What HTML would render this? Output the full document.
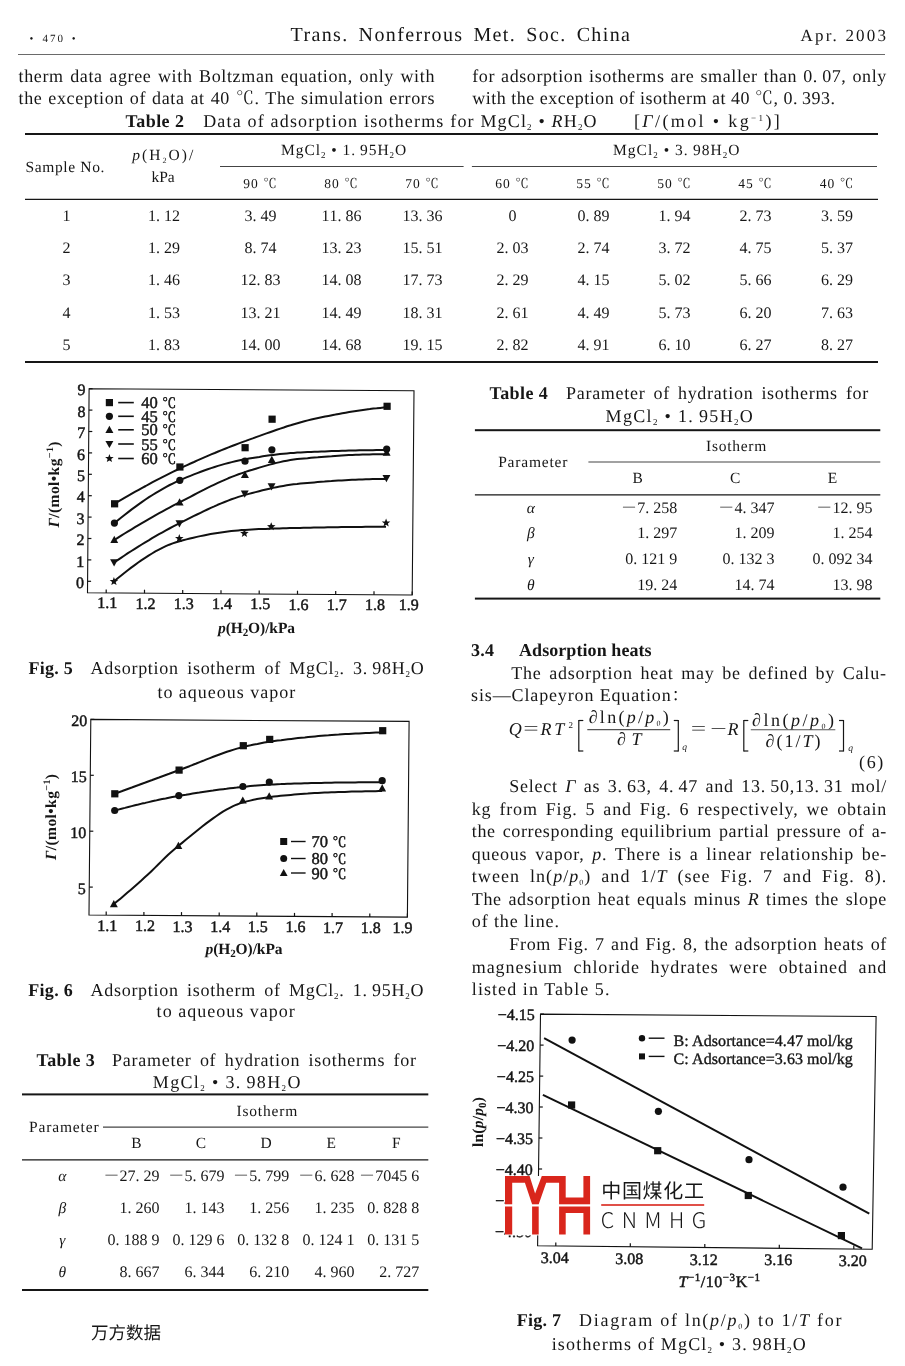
<!DOCTYPE html>
<html><head><meta charset="utf-8"><title>Trans. Nonferrous Met. Soc. China</title>
<style>
html,body{margin:0;padding:0;background:#fff;}
body{width:905px;height:1366px;overflow:hidden;}
svg{display:block;}
text{font-family:'Liberation Serif','Noto Serif CJK SC',serif;fill:#161616;text-rendering:geometricPrecision;}
.cj{font-family:'Noto Sans CJK SC','WenQuanYi Zen Hei',sans-serif;}
</style></head><body>
<svg width="905" height="1366" viewBox="0 0 905 1366">
<rect width="905" height="1366" fill="#fff"/>
<text x="31.5" y="41.5" style="font-size:11px" text-anchor="middle">•</text>
<text x="42.4" y="41.5" style="font-size:11px" textLength="20.6" lengthAdjust="spacing">470</text>
<text x="73.6" y="41.5" style="font-size:11px" text-anchor="middle">•</text>
<text x="290.5" y="40.5" style="font-size:20px;letter-spacing:0.5px;word-spacing:3.64px" textLength="339.9" lengthAdjust="spacing">Trans.  Nonferrous Met.  Soc.  China</text>
<text x="800.5" y="40.5" style="font-size:17px" textLength="85.4" lengthAdjust="spacing">Apr.  2003</text>
<line x1="18.0" y1="54.5" x2="885.0" y2="54.5" stroke="#6a6a6a" stroke-width="1"/>
<text x="18.5" y="82.0" style="font-size:18px;letter-spacing:0.5px;word-spacing:1.41px" textLength="416.4" lengthAdjust="spacing">therm data agree with Boltzman equation, only with</text>
<text x="18.5" y="104.0" style="font-size:18px;letter-spacing:0.5px;word-spacing:0.83px" textLength="416.4" lengthAdjust="spacing">the exception of data at 40 ℃.  The simulation errors</text>
<text x="472.2" y="82.0" style="font-size:18px;letter-spacing:0.5px;word-spacing:1.03px" textLength="414.6" lengthAdjust="spacing">for adsorption isotherms are smaller than 0. 07, only</text>
<text x="472.2" y="104.0" style="font-size:18px;letter-spacing:0.5px;word-spacing:-0.01px" textLength="363.4" lengthAdjust="spacing">with the exception of isotherm at 40 ℃, 0. 393.</text>
<text x="125.5" y="126.7" style="font-size:18px;font-weight:bold" textLength="58.4" lengthAdjust="spacing">Table 2</text>
<text x="203.2" y="126.7" style="font-size:18px" textLength="393.4" lengthAdjust="spacing">Data of adsorption isotherms for MgCl<tspan baseline-shift="-3" style="font-size:9px">2</tspan> • <tspan style="font-style:italic">R</tspan>H<tspan baseline-shift="-3" style="font-size:9px">2</tspan>O</text>
<text x="634.0" y="126.7" style="font-size:18px" textLength="145.8" lengthAdjust="spacing">[<tspan style="font-style:italic">Γ</tspan>/(mol • kg<tspan baseline-shift="6" style="font-size:9px">−1</tspan>)]</text>
<rect x="25.0" y="133.0" width="853.0" height="2.0" fill="#161616"/>
<text x="25.4" y="172.1" style="font-size:15.5px" textLength="79.0" lengthAdjust="spacing">Sample No.</text>
<text x="162.7" y="160.2" style="font-size:15.5px" text-anchor="middle" textLength="61.0" lengthAdjust="spacing"><tspan style="font-style:italic">p</tspan>(H<tspan baseline-shift="-3" style="font-size:8px">2</tspan>O)/</text>
<text x="163.0" y="181.8" style="font-size:15.5px" text-anchor="middle">kPa</text>
<text x="281.0" y="155.4" style="font-size:15.5px" textLength="125.2" lengthAdjust="spacing">MgCl<tspan baseline-shift="-3" style="font-size:9px">2</tspan> • 1. 95H<tspan baseline-shift="-3" style="font-size:9px">2</tspan>O</text>
<text x="613.0" y="155.4" style="font-size:15.5px" textLength="126.4" lengthAdjust="spacing">MgCl<tspan baseline-shift="-3" style="font-size:9px">2</tspan> • 3. 98H<tspan baseline-shift="-3" style="font-size:9px">2</tspan>O</text>
<line x1="220.0" y1="166.5" x2="463.6" y2="166.5" stroke="#444" stroke-width="1.2"/>
<line x1="471.9" y1="166.5" x2="877.0" y2="166.5" stroke="#444" stroke-width="1.2"/>
<text x="260.0" y="187.9" style="font-size:13.5px" text-anchor="middle" textLength="33.5" lengthAdjust="spacing" fill="#333">90 ℃</text>
<text x="341.0" y="187.9" style="font-size:13.5px" text-anchor="middle" textLength="33.5" lengthAdjust="spacing" fill="#333">80 ℃</text>
<text x="422.0" y="187.9" style="font-size:13.5px" text-anchor="middle" textLength="33.5" lengthAdjust="spacing" fill="#333">70 ℃</text>
<text x="512.0" y="187.9" style="font-size:13.5px" text-anchor="middle" textLength="33.5" lengthAdjust="spacing" fill="#333">60 ℃</text>
<text x="593.0" y="187.9" style="font-size:13.5px" text-anchor="middle" textLength="33.5" lengthAdjust="spacing" fill="#333">55 ℃</text>
<text x="674.0" y="187.9" style="font-size:13.5px" text-anchor="middle" textLength="33.5" lengthAdjust="spacing" fill="#333">50 ℃</text>
<text x="755.0" y="187.9" style="font-size:13.5px" text-anchor="middle" textLength="33.5" lengthAdjust="spacing" fill="#333">45 ℃</text>
<text x="836.5" y="187.9" style="font-size:13.5px" text-anchor="middle" textLength="33.5" lengthAdjust="spacing" fill="#333">40 ℃</text>
<line x1="25.0" y1="199.3" x2="878.0" y2="199.3" stroke="#161616" stroke-width="1.2"/>
<text x="62.60" y="220.5" style="font-size:16px" fill="#3c3c3c">1</text>
<text x="148.10 156.10 164.10 172.10" y="220.5" style="font-size:16px" fill="#3c3c3c">1.12</text>
<text x="244.60 252.60 260.60 268.60" y="220.5" style="font-size:16px" fill="#3c3c3c">3.49</text>
<text x="321.60 329.60 337.60 345.60 353.60" y="220.5" style="font-size:16px" fill="#3c3c3c">11.86</text>
<text x="402.60 410.60 418.60 426.60 434.60" y="220.5" style="font-size:16px" fill="#3c3c3c">13.36</text>
<text x="508.60" y="220.5" style="font-size:16px" fill="#3c3c3c">0</text>
<text x="577.60 585.60 593.60 601.60" y="220.5" style="font-size:16px" fill="#3c3c3c">0.89</text>
<text x="658.60 666.60 674.60 682.60" y="220.5" style="font-size:16px" fill="#3c3c3c">1.94</text>
<text x="739.60 747.60 755.60 763.60" y="220.5" style="font-size:16px" fill="#3c3c3c">2.73</text>
<text x="821.10 829.10 837.10 845.10" y="220.5" style="font-size:16px" fill="#3c3c3c">3.59</text>
<text x="62.60" y="252.9" style="font-size:16px" fill="#3c3c3c">2</text>
<text x="148.10 156.10 164.10 172.10" y="252.9" style="font-size:16px" fill="#3c3c3c">1.29</text>
<text x="244.60 252.60 260.60 268.60" y="252.9" style="font-size:16px" fill="#3c3c3c">8.74</text>
<text x="321.60 329.60 337.60 345.60 353.60" y="252.9" style="font-size:16px" fill="#3c3c3c">13.23</text>
<text x="402.60 410.60 418.60 426.60 434.60" y="252.9" style="font-size:16px" fill="#3c3c3c">15.51</text>
<text x="496.60 504.60 512.60 520.60" y="252.9" style="font-size:16px" fill="#3c3c3c">2.03</text>
<text x="577.60 585.60 593.60 601.60" y="252.9" style="font-size:16px" fill="#3c3c3c">2.74</text>
<text x="658.60 666.60 674.60 682.60" y="252.9" style="font-size:16px" fill="#3c3c3c">3.72</text>
<text x="739.60 747.60 755.60 763.60" y="252.9" style="font-size:16px" fill="#3c3c3c">4.75</text>
<text x="821.10 829.10 837.10 845.10" y="252.9" style="font-size:16px" fill="#3c3c3c">5.37</text>
<text x="62.60" y="285.4" style="font-size:16px" fill="#3c3c3c">3</text>
<text x="148.10 156.10 164.10 172.10" y="285.4" style="font-size:16px" fill="#3c3c3c">1.46</text>
<text x="240.60 248.60 256.60 264.60 272.60" y="285.4" style="font-size:16px" fill="#3c3c3c">12.83</text>
<text x="321.60 329.60 337.60 345.60 353.60" y="285.4" style="font-size:16px" fill="#3c3c3c">14.08</text>
<text x="402.60 410.60 418.60 426.60 434.60" y="285.4" style="font-size:16px" fill="#3c3c3c">17.73</text>
<text x="496.60 504.60 512.60 520.60" y="285.4" style="font-size:16px" fill="#3c3c3c">2.29</text>
<text x="577.60 585.60 593.60 601.60" y="285.4" style="font-size:16px" fill="#3c3c3c">4.15</text>
<text x="658.60 666.60 674.60 682.60" y="285.4" style="font-size:16px" fill="#3c3c3c">5.02</text>
<text x="739.60 747.60 755.60 763.60" y="285.4" style="font-size:16px" fill="#3c3c3c">5.66</text>
<text x="821.10 829.10 837.10 845.10" y="285.4" style="font-size:16px" fill="#3c3c3c">6.29</text>
<text x="62.60" y="317.7" style="font-size:16px" fill="#3c3c3c">4</text>
<text x="148.10 156.10 164.10 172.10" y="317.7" style="font-size:16px" fill="#3c3c3c">1.53</text>
<text x="240.60 248.60 256.60 264.60 272.60" y="317.7" style="font-size:16px" fill="#3c3c3c">13.21</text>
<text x="321.60 329.60 337.60 345.60 353.60" y="317.7" style="font-size:16px" fill="#3c3c3c">14.49</text>
<text x="402.60 410.60 418.60 426.60 434.60" y="317.7" style="font-size:16px" fill="#3c3c3c">18.31</text>
<text x="496.60 504.60 512.60 520.60" y="317.7" style="font-size:16px" fill="#3c3c3c">2.61</text>
<text x="577.60 585.60 593.60 601.60" y="317.7" style="font-size:16px" fill="#3c3c3c">4.49</text>
<text x="658.60 666.60 674.60 682.60" y="317.7" style="font-size:16px" fill="#3c3c3c">5.73</text>
<text x="739.60 747.60 755.60 763.60" y="317.7" style="font-size:16px" fill="#3c3c3c">6.20</text>
<text x="821.10 829.10 837.10 845.10" y="317.7" style="font-size:16px" fill="#3c3c3c">7.63</text>
<text x="62.60" y="350.0" style="font-size:16px" fill="#3c3c3c">5</text>
<text x="148.10 156.10 164.10 172.10" y="350.0" style="font-size:16px" fill="#3c3c3c">1.83</text>
<text x="240.60 248.60 256.60 264.60 272.60" y="350.0" style="font-size:16px" fill="#3c3c3c">14.00</text>
<text x="321.60 329.60 337.60 345.60 353.60" y="350.0" style="font-size:16px" fill="#3c3c3c">14.68</text>
<text x="402.60 410.60 418.60 426.60 434.60" y="350.0" style="font-size:16px" fill="#3c3c3c">19.15</text>
<text x="496.60 504.60 512.60 520.60" y="350.0" style="font-size:16px" fill="#3c3c3c">2.82</text>
<text x="577.60 585.60 593.60 601.60" y="350.0" style="font-size:16px" fill="#3c3c3c">4.91</text>
<text x="658.60 666.60 674.60 682.60" y="350.0" style="font-size:16px" fill="#3c3c3c">6.10</text>
<text x="739.60 747.60 755.60 763.60" y="350.0" style="font-size:16px" fill="#3c3c3c">6.27</text>
<text x="821.10 829.10 837.10 845.10" y="350.0" style="font-size:16px" fill="#3c3c3c">8.27</text>
<rect x="25.0" y="361.0" width="853.0" height="2.0" fill="#161616"/>
<polygon points="89.1,388.7 414.0,390.8 412.2,595.0 87.5,592.8" fill="none" stroke="#111" stroke-width="1.1"/>
<line x1="87.6" y1="581.3" x2="91.1" y2="581.3" stroke="#111" stroke-width="1.2"/>
<text x="84.1" y="587.9" style="font-family:'Liberation Serif','Noto Serif CJK SC',serif;font-size:16px;font-weight:normal" fill="#111" text-anchor="end" stroke="#111" stroke-width="0.45">0</text>
<line x1="87.8" y1="559.9" x2="91.3" y2="559.9" stroke="#111" stroke-width="1.2"/>
<text x="84.3" y="566.5" style="font-family:'Liberation Serif','Noto Serif CJK SC',serif;font-size:16px;font-weight:normal" fill="#111" text-anchor="end" stroke="#111" stroke-width="0.45">1</text>
<line x1="87.9" y1="538.5" x2="91.4" y2="538.5" stroke="#111" stroke-width="1.2"/>
<text x="84.4" y="545.1" style="font-family:'Liberation Serif','Noto Serif CJK SC',serif;font-size:16px;font-weight:normal" fill="#111" text-anchor="end" stroke="#111" stroke-width="0.45">2</text>
<line x1="88.1" y1="517.1" x2="91.6" y2="517.1" stroke="#111" stroke-width="1.2"/>
<text x="84.6" y="523.7" style="font-family:'Liberation Serif','Noto Serif CJK SC',serif;font-size:16px;font-weight:normal" fill="#111" text-anchor="end" stroke="#111" stroke-width="0.45">3</text>
<line x1="88.3" y1="495.7" x2="91.8" y2="495.7" stroke="#111" stroke-width="1.2"/>
<text x="84.8" y="502.3" style="font-family:'Liberation Serif','Noto Serif CJK SC',serif;font-size:16px;font-weight:normal" fill="#111" text-anchor="end" stroke="#111" stroke-width="0.45">4</text>
<line x1="88.4" y1="474.3" x2="91.9" y2="474.3" stroke="#111" stroke-width="1.2"/>
<text x="84.9" y="480.9" style="font-family:'Liberation Serif','Noto Serif CJK SC',serif;font-size:16px;font-weight:normal" fill="#111" text-anchor="end" stroke="#111" stroke-width="0.45">5</text>
<line x1="88.6" y1="452.9" x2="92.1" y2="452.9" stroke="#111" stroke-width="1.2"/>
<text x="85.1" y="459.5" style="font-family:'Liberation Serif','Noto Serif CJK SC',serif;font-size:16px;font-weight:normal" fill="#111" text-anchor="end" stroke="#111" stroke-width="0.45">6</text>
<line x1="88.8" y1="431.5" x2="92.3" y2="431.5" stroke="#111" stroke-width="1.2"/>
<text x="85.3" y="438.1" style="font-family:'Liberation Serif','Noto Serif CJK SC',serif;font-size:16px;font-weight:normal" fill="#111" text-anchor="end" stroke="#111" stroke-width="0.45">7</text>
<line x1="88.9" y1="410.1" x2="92.4" y2="410.1" stroke="#111" stroke-width="1.2"/>
<text x="85.4" y="416.7" style="font-family:'Liberation Serif','Noto Serif CJK SC',serif;font-size:16px;font-weight:normal" fill="#111" text-anchor="end" stroke="#111" stroke-width="0.45">8</text>
<line x1="89.1" y1="388.7" x2="92.6" y2="388.7" stroke="#111" stroke-width="1.2"/>
<text x="85.6" y="395.3" style="font-family:'Liberation Serif','Noto Serif CJK SC',serif;font-size:16px;font-weight:normal" fill="#111" text-anchor="end" stroke="#111" stroke-width="0.45">9</text>
<line x1="106.2" y1="592.9" x2="106.2" y2="589.4" stroke="#111" stroke-width="1.2"/>
<text x="107.2" y="608.2" style="font-family:'Liberation Serif','Noto Serif CJK SC',serif;font-size:16px;font-weight:normal" fill="#111" text-anchor="middle" stroke="#111" stroke-width="0.45">1.1</text>
<line x1="144.5" y1="593.2" x2="144.5" y2="589.7" stroke="#111" stroke-width="1.2"/>
<text x="145.5" y="608.5" style="font-family:'Liberation Serif','Noto Serif CJK SC',serif;font-size:16px;font-weight:normal" fill="#111" text-anchor="middle" stroke="#111" stroke-width="0.45">1.2</text>
<line x1="182.7" y1="593.4" x2="182.7" y2="589.9" stroke="#111" stroke-width="1.2"/>
<text x="183.7" y="608.7" style="font-family:'Liberation Serif','Noto Serif CJK SC',serif;font-size:16px;font-weight:normal" fill="#111" text-anchor="middle" stroke="#111" stroke-width="0.45">1.3</text>
<line x1="221.0" y1="593.7" x2="221.0" y2="590.2" stroke="#111" stroke-width="1.2"/>
<text x="222.0" y="609.0" style="font-family:'Liberation Serif','Noto Serif CJK SC',serif;font-size:16px;font-weight:normal" fill="#111" text-anchor="middle" stroke="#111" stroke-width="0.45">1.4</text>
<line x1="259.2" y1="594.0" x2="259.2" y2="590.5" stroke="#111" stroke-width="1.2"/>
<text x="260.2" y="609.3" style="font-family:'Liberation Serif','Noto Serif CJK SC',serif;font-size:16px;font-weight:normal" fill="#111" text-anchor="middle" stroke="#111" stroke-width="0.45">1.5</text>
<line x1="297.5" y1="594.2" x2="297.5" y2="590.7" stroke="#111" stroke-width="1.2"/>
<text x="298.5" y="609.5" style="font-family:'Liberation Serif','Noto Serif CJK SC',serif;font-size:16px;font-weight:normal" fill="#111" text-anchor="middle" stroke="#111" stroke-width="0.45">1.6</text>
<line x1="335.7" y1="594.5" x2="335.7" y2="591.0" stroke="#111" stroke-width="1.2"/>
<text x="336.7" y="609.8" style="font-family:'Liberation Serif','Noto Serif CJK SC',serif;font-size:16px;font-weight:normal" fill="#111" text-anchor="middle" stroke="#111" stroke-width="0.45">1.7</text>
<line x1="374.0" y1="594.7" x2="374.0" y2="591.2" stroke="#111" stroke-width="1.2"/>
<text x="375.0" y="610.0" style="font-family:'Liberation Serif','Noto Serif CJK SC',serif;font-size:16px;font-weight:normal" fill="#111" text-anchor="middle" stroke="#111" stroke-width="0.45">1.8</text>
<line x1="412.2" y1="595.0" x2="412.2" y2="591.5" stroke="#111" stroke-width="1.2"/>
<text x="408.8" y="610.3" style="font-family:'Liberation Serif','Noto Serif CJK SC',serif;font-size:16px;font-weight:normal" fill="#111" text-anchor="middle" stroke="#111" stroke-width="0.45">1.9</text>
<path d="M114.6,503.8 L118.0,501.7 L121.5,499.7 L124.9,497.7 L128.4,495.7 L131.8,493.7 L135.3,491.7 L138.7,489.8 L142.2,487.8 L145.7,486.0 L149.1,484.1 L152.6,482.2 L156.0,480.4 L159.5,478.6 L162.9,476.8 L166.4,475.1 L169.8,473.4 L173.3,471.7 L176.7,470.0 L180.2,468.3 L183.6,466.7 L187.1,465.1 L190.5,463.5 L194.0,462.0 L197.4,460.4 L200.9,458.9 L204.3,457.4 L207.8,455.9 L211.2,454.4 L214.7,453.0 L218.2,451.5 L221.6,450.1 L225.1,448.7 L228.5,447.4 L232.0,446.0 L235.4,444.7 L238.9,443.4 L242.3,442.1 L245.8,440.9 L249.2,439.6 L252.7,438.4 L256.1,437.1 L259.6,435.9 L263.0,434.6 L266.5,433.4 L269.9,432.2 L273.4,431.0 L276.8,429.8 L280.3,428.6 L283.7,427.5 L287.1,426.3 L290.6,425.3 L294.0,424.2 L297.5,423.2 L300.9,422.2 L304.4,421.3 L307.8,420.4 L311.3,419.5 L314.7,418.7 L318.2,418.0 L321.6,417.3 L325.1,416.6 L328.5,415.9 L332.0,415.2 L335.4,414.6 L338.8,413.9 L342.3,413.3 L345.7,412.7 L349.2,412.1 L352.6,411.5 L356.1,411.0 L359.5,410.5 L363.0,410.0 L366.4,409.5 L369.8,409.1 L373.3,408.6 L376.7,408.3 L380.2,407.9 L383.6,407.6 L387.1,407.3" fill="none" stroke="#111" stroke-width="2" stroke-linejoin="round"/>
<path d="M114.4,523.1 L117.9,520.2 L121.3,517.5 L124.8,514.7 L128.2,512.1 L131.7,509.4 L135.2,506.9 L138.6,504.4 L142.1,501.9 L145.5,499.5 L149.0,497.2 L152.5,495.0 L155.9,492.8 L159.4,490.8 L162.8,488.8 L166.3,486.8 L169.7,485.0 L173.2,483.3 L176.6,481.7 L180.1,480.1 L183.5,478.7 L187.0,477.2 L190.4,475.8 L193.9,474.4 L197.3,473.1 L200.8,471.8 L204.2,470.5 L207.7,469.3 L211.1,468.1 L214.6,467.0 L218.0,465.9 L221.5,464.9 L224.9,463.9 L228.4,463.0 L231.8,462.1 L235.3,461.3 L238.7,460.5 L242.2,459.8 L245.6,459.2 L249.0,458.6 L252.5,458.0 L255.9,457.4 L259.4,456.9 L262.8,456.3 L266.3,455.8 L269.7,455.3 L273.2,454.9 L276.6,454.5 L280.0,454.1 L283.5,453.7 L286.9,453.4 L290.4,453.1 L293.8,452.9 L297.2,452.6 L300.7,452.5 L304.1,452.3 L307.6,452.1 L311.0,452.0 L314.4,451.8 L317.9,451.7 L321.3,451.5 L324.8,451.4 L328.2,451.2 L331.7,451.1 L335.1,451.0 L338.5,450.9 L342.0,450.8 L345.4,450.7 L348.9,450.6 L352.3,450.5 L355.7,450.4 L359.2,450.3 L362.6,450.3 L366.1,450.2 L369.5,450.2 L372.9,450.2 L376.4,450.1 L379.8,450.1 L383.2,450.1 L386.7,450.1" fill="none" stroke="#111" stroke-width="2" stroke-linejoin="round"/>
<path d="M114.3,540.0 L117.7,537.8 L121.2,535.6 L124.6,533.5 L128.1,531.4 L131.6,529.3 L135.0,527.2 L138.5,525.1 L141.9,523.1 L145.4,521.1 L148.8,519.1 L152.3,517.1 L155.7,515.1 L159.2,513.2 L162.6,511.3 L166.1,509.4 L169.5,507.6 L173.0,505.7 L176.5,503.9 L179.9,502.2 L183.4,500.4 L186.8,498.6 L190.3,496.8 L193.7,495.0 L197.2,493.2 L200.6,491.4 L204.1,489.7 L207.5,487.9 L211.0,486.2 L214.4,484.6 L217.9,482.9 L221.3,481.3 L224.8,479.8 L228.2,478.3 L231.7,476.9 L235.1,475.6 L238.6,474.3 L242.0,473.1 L245.5,471.9 L248.9,470.8 L252.4,469.8 L255.8,468.7 L259.3,467.6 L262.7,466.6 L266.2,465.6 L269.6,464.6 L273.1,463.7 L276.5,462.9 L280.0,462.1 L283.4,461.3 L286.9,460.7 L290.3,460.1 L293.7,459.6 L297.2,459.1 L300.6,458.8 L304.1,458.5 L307.5,458.2 L311.0,457.8 L314.4,457.5 L317.8,457.3 L321.3,457.0 L324.7,456.7 L328.2,456.4 L331.6,456.2 L335.0,455.9 L338.5,455.7 L341.9,455.5 L345.4,455.3 L348.8,455.1 L352.3,455.0 L355.7,454.8 L359.1,454.7 L362.6,454.5 L366.0,454.4 L369.5,454.4 L372.9,454.3 L376.3,454.2 L379.8,454.2 L383.2,454.2 L386.7,454.2" fill="none" stroke="#111" stroke-width="2" stroke-linejoin="round"/>
<path d="M114.1,562.4 L117.6,560.1 L121.0,557.8 L124.5,555.5 L127.9,553.2 L131.4,551.0 L134.8,548.8 L138.3,546.6 L141.7,544.5 L145.2,542.3 L148.7,540.3 L152.1,538.2 L155.6,536.2 L159.0,534.2 L162.5,532.3 L165.9,530.4 L169.4,528.5 L172.8,526.7 L176.3,524.9 L179.7,523.1 L183.2,521.4 L186.6,519.7 L190.1,517.9 L193.5,516.2 L197.0,514.5 L200.5,512.8 L203.9,511.1 L207.4,509.5 L210.8,507.9 L214.3,506.4 L217.7,504.8 L221.2,503.4 L224.6,502.0 L228.1,500.6 L231.5,499.3 L235.0,498.1 L238.4,496.9 L241.9,495.9 L245.3,494.9 L248.8,493.9 L252.2,493.0 L255.6,492.1 L259.1,491.2 L262.5,490.3 L266.0,489.5 L269.4,488.7 L272.9,487.9 L276.3,487.2 L279.8,486.5 L283.2,485.9 L286.7,485.3 L290.1,484.8 L293.5,484.3 L297.0,484.0 L300.4,483.6 L303.9,483.3 L307.3,483.0 L310.7,482.7 L314.2,482.4 L317.6,482.1 L321.1,481.8 L324.5,481.6 L328.0,481.3 L331.4,481.1 L334.8,480.8 L338.3,480.6 L341.7,480.4 L345.2,480.2 L348.6,480.0 L352.0,479.8 L355.5,479.7 L358.9,479.5 L362.4,479.4 L365.8,479.3 L369.2,479.2 L372.7,479.1 L376.1,479.1 L379.6,479.1 L383.0,479.0 L386.4,479.1" fill="none" stroke="#111" stroke-width="2" stroke-linejoin="round"/>
<path d="M113.9,581.5 L117.4,578.6 L120.9,575.8 L124.3,573.0 L127.8,570.3 L131.2,567.6 L134.7,565.1 L138.2,562.5 L141.6,560.1 L145.1,557.8 L148.5,555.6 L152.0,553.5 L155.4,551.4 L158.9,549.6 L162.3,547.8 L165.8,546.2 L169.2,544.7 L172.7,543.4 L176.1,542.2 L179.6,541.2 L183.0,540.3 L186.5,539.4 L189.9,538.5 L193.4,537.7 L196.8,536.9 L200.3,536.1 L203.7,535.4 L207.2,534.7 L210.6,534.1 L214.0,533.5 L217.5,532.9 L220.9,532.4 L224.4,531.9 L227.8,531.5 L231.3,531.1 L234.7,530.7 L238.1,530.4 L241.6,530.1 L245.0,529.9 L248.5,529.7 L251.9,529.5 L255.3,529.3 L258.8,529.1 L262.2,529.0 L265.7,528.9 L269.1,528.7 L272.5,528.6 L276.0,528.5 L279.4,528.4 L282.9,528.3 L286.3,528.2 L289.7,528.1 L293.2,528.0 L296.6,528.0 L300.0,527.9 L303.5,527.8 L306.9,527.7 L310.4,527.7 L313.8,527.6 L317.2,527.5 L320.7,527.5 L324.1,527.4 L327.6,527.3 L331.0,527.3 L334.4,527.2 L337.9,527.2 L341.3,527.1 L344.8,527.1 L348.2,527.0 L351.6,527.0 L355.1,526.9 L358.5,526.9 L361.9,526.9 L365.4,526.8 L368.8,526.8 L372.3,526.8 L375.7,526.8 L379.1,526.8 L382.6,526.8 L386.0,526.8" fill="none" stroke="#111" stroke-width="2" stroke-linejoin="round"/>
<rect x="111.0" y="500.2" width="7.2" height="7.2" fill="#111"/>
<rect x="176.3" y="463.4" width="7.2" height="7.2" fill="#111"/>
<rect x="241.5" y="444.1" width="7.2" height="7.2" fill="#111"/>
<rect x="268.5" y="415.6" width="7.2" height="7.2" fill="#111"/>
<rect x="383.5" y="402.7" width="7.2" height="7.2" fill="#111"/>
<circle cx="114.4" cy="523.1" r="3.6" fill="#111"/>
<circle cx="179.8" cy="480.3" r="3.6" fill="#111"/>
<circle cx="245.0" cy="461.2" r="3.6" fill="#111"/>
<circle cx="271.9" cy="449.8" r="3.6" fill="#111"/>
<circle cx="386.7" cy="449.1" r="3.6" fill="#111"/>
<polygon points="114.3,535.8 118.2,543.1 110.3,543.1" fill="#111"/>
<polygon points="179.6,498.2 183.6,505.4 175.7,505.4" fill="#111"/>
<polygon points="244.9,470.8 248.9,478.0 240.9,478.0" fill="#111"/>
<polygon points="271.8,455.7 275.8,463.0 267.8,463.0" fill="#111"/>
<polygon points="386.7,448.6 390.6,455.8 382.7,455.8" fill="#111"/>
<polygon points="114.1,566.6 118.1,559.3 110.1,559.3" fill="#111"/>
<polygon points="179.4,527.4 183.4,520.2 175.5,520.2" fill="#111"/>
<polygon points="244.7,497.7 248.7,490.4 240.8,490.4" fill="#111"/>
<polygon points="271.6,490.6 275.5,483.3 267.6,483.3" fill="#111"/>
<polygon points="386.4,482.3 390.4,475.1 382.5,475.1" fill="#111"/>
<polygon points="113.9,577.0 115.1,580.0 118.2,580.1 115.7,582.1 116.6,585.1 113.9,583.4 111.3,585.1 112.1,582.1 109.7,580.1 112.8,580.0" fill="#111"/>
<polygon points="179.3,534.0 180.4,536.9 183.6,537.1 181.1,539.1 182.0,542.1 179.3,540.4 176.7,542.1 177.5,539.1 175.0,537.1 178.2,536.9" fill="#111"/>
<polygon points="244.4,528.8 245.5,531.8 248.7,532.0 246.2,533.9 247.1,537.0 244.4,535.2 241.8,537.0 242.6,533.9 240.1,532.0 243.3,531.8" fill="#111"/>
<polygon points="271.2,522.2 272.4,525.1 275.5,525.3 273.0,527.3 273.9,530.3 271.2,528.6 268.6,530.3 269.4,527.3 267.0,525.3 270.1,525.1" fill="#111"/>
<polygon points="386.1,518.4 387.2,521.4 390.3,521.6 387.9,523.5 388.7,526.6 386.1,524.8 383.4,526.6 384.3,523.5 381.8,521.6 384.9,521.4" fill="#111"/>
<rect x="105.8" y="399.0" width="7.2" height="7.2" fill="#111"/>
<line x1="118.2" y1="402.6" x2="133.8" y2="402.6" stroke="#111" stroke-width="1.6"/>
<text x="141.2" y="408.2" style="font-family:'Liberation Serif','Noto Serif CJK SC',serif;font-size:16.5px;font-weight:normal" fill="#111" stroke="#111" stroke-width="0.45">40<tspan dx="4.5" style="font-size:14px">℃</tspan></text>
<circle cx="109.4" cy="416.3" r="3.6" fill="#111"/>
<line x1="118.2" y1="416.3" x2="133.8" y2="416.3" stroke="#111" stroke-width="1.6"/>
<text x="141.2" y="421.9" style="font-family:'Liberation Serif','Noto Serif CJK SC',serif;font-size:16.5px;font-weight:normal" fill="#111" stroke="#111" stroke-width="0.45">45<tspan dx="4.5" style="font-size:14px">℃</tspan></text>
<polygon points="109.4,425.7 113.4,432.9 105.4,432.9" fill="#111"/>
<line x1="118.2" y1="429.8" x2="133.8" y2="429.8" stroke="#111" stroke-width="1.6"/>
<text x="141.2" y="435.4" style="font-family:'Liberation Serif','Noto Serif CJK SC',serif;font-size:16.5px;font-weight:normal" fill="#111" stroke="#111" stroke-width="0.45">50<tspan dx="4.5" style="font-size:14px">℃</tspan></text>
<polygon points="109.4,448.1 113.4,440.9 105.4,440.9" fill="#111"/>
<line x1="118.2" y1="444.0" x2="133.8" y2="444.0" stroke="#111" stroke-width="1.6"/>
<text x="141.2" y="449.6" style="font-family:'Liberation Serif','Noto Serif CJK SC',serif;font-size:16.5px;font-weight:normal" fill="#111" stroke="#111" stroke-width="0.45">55<tspan dx="4.5" style="font-size:14px">℃</tspan></text>
<polygon points="109.4,454.0 110.5,457.0 113.7,457.1 111.2,459.1 112.0,462.1 109.4,460.4 106.8,462.1 107.6,459.1 105.1,457.1 108.3,457.0" fill="#111"/>
<line x1="118.2" y1="458.5" x2="133.8" y2="458.5" stroke="#111" stroke-width="1.6"/>
<text x="141.2" y="464.1" style="font-family:'Liberation Serif','Noto Serif CJK SC',serif;font-size:16.5px;font-weight:normal" fill="#111" stroke="#111" stroke-width="0.45">60<tspan dx="4.5" style="font-size:14px">℃</tspan></text>
<text x="256.5" y="632.7" style="font-family:'Liberation Serif','Noto Serif CJK SC',serif;font-size:15.5px;font-weight:bold" fill="#111" text-anchor="middle" textLength="77.0" lengthAdjust="spacing"><tspan style="font-style:italic">p</tspan>(H<tspan baseline-shift="-3" style="font-size:11px">2</tspan>O)/kPa</text>
<g transform="translate(59.3,484.5) rotate(-90)"><text x="0.0" y="0.0" style="font-family:'Liberation Serif','Noto Serif CJK SC',serif;font-size:15.5px;font-weight:bold" fill="#111" text-anchor="middle" textLength="86.0" lengthAdjust="spacing"><tspan style="font-style:italic">Γ</tspan>/(mol•kg<tspan baseline-shift="6" style="font-size:10px">−1</tspan>)</text></g>
<polygon points="90.8,719.4 409.1,721.4 407.4,917.1 89.0,915.0" fill="none" stroke="#111" stroke-width="1.1"/>
<line x1="89.3" y1="887.1" x2="92.8" y2="887.1" stroke="#111" stroke-width="1.2"/>
<text x="85.8" y="893.7" style="font-family:'Liberation Serif','Noto Serif CJK SC',serif;font-size:16px;font-weight:normal" fill="#111" text-anchor="end" stroke="#111" stroke-width="0.45">5</text>
<line x1="89.8" y1="831.2" x2="93.3" y2="831.2" stroke="#111" stroke-width="1.2"/>
<text x="86.3" y="837.8" style="font-family:'Liberation Serif','Noto Serif CJK SC',serif;font-size:16px;font-weight:normal" fill="#111" text-anchor="end" stroke="#111" stroke-width="0.45">10</text>
<line x1="90.3" y1="775.3" x2="93.8" y2="775.3" stroke="#111" stroke-width="1.2"/>
<text x="86.8" y="781.9" style="font-family:'Liberation Serif','Noto Serif CJK SC',serif;font-size:16px;font-weight:normal" fill="#111" text-anchor="end" stroke="#111" stroke-width="0.45">15</text>
<line x1="90.8" y1="719.4" x2="94.3" y2="719.4" stroke="#111" stroke-width="1.2"/>
<text x="87.3" y="726.0" style="font-family:'Liberation Serif','Noto Serif CJK SC',serif;font-size:16px;font-weight:normal" fill="#111" text-anchor="end" stroke="#111" stroke-width="0.45">20</text>
<line x1="106.2" y1="915.1" x2="106.2" y2="911.6" stroke="#111" stroke-width="1.2"/>
<text x="107.2" y="931.0" style="font-family:'Liberation Serif','Noto Serif CJK SC',serif;font-size:16px;font-weight:normal" fill="#111" text-anchor="middle" stroke="#111" stroke-width="0.45">1.1</text>
<line x1="143.9" y1="915.4" x2="143.9" y2="911.9" stroke="#111" stroke-width="1.2"/>
<text x="144.9" y="931.3" style="font-family:'Liberation Serif','Noto Serif CJK SC',serif;font-size:16px;font-weight:normal" fill="#111" text-anchor="middle" stroke="#111" stroke-width="0.45">1.2</text>
<line x1="181.5" y1="915.6" x2="181.5" y2="912.1" stroke="#111" stroke-width="1.2"/>
<text x="182.5" y="931.5" style="font-family:'Liberation Serif','Noto Serif CJK SC',serif;font-size:16px;font-weight:normal" fill="#111" text-anchor="middle" stroke="#111" stroke-width="0.45">1.3</text>
<line x1="219.2" y1="915.9" x2="219.2" y2="912.4" stroke="#111" stroke-width="1.2"/>
<text x="220.2" y="931.8" style="font-family:'Liberation Serif','Noto Serif CJK SC',serif;font-size:16px;font-weight:normal" fill="#111" text-anchor="middle" stroke="#111" stroke-width="0.45">1.4</text>
<line x1="256.8" y1="916.1" x2="256.8" y2="912.6" stroke="#111" stroke-width="1.2"/>
<text x="257.8" y="932.0" style="font-family:'Liberation Serif','Noto Serif CJK SC',serif;font-size:16px;font-weight:normal" fill="#111" text-anchor="middle" stroke="#111" stroke-width="0.45">1.5</text>
<line x1="294.5" y1="916.4" x2="294.5" y2="912.9" stroke="#111" stroke-width="1.2"/>
<text x="295.5" y="932.3" style="font-family:'Liberation Serif','Noto Serif CJK SC',serif;font-size:16px;font-weight:normal" fill="#111" text-anchor="middle" stroke="#111" stroke-width="0.45">1.6</text>
<line x1="332.1" y1="916.6" x2="332.1" y2="913.1" stroke="#111" stroke-width="1.2"/>
<text x="333.1" y="932.5" style="font-family:'Liberation Serif','Noto Serif CJK SC',serif;font-size:16px;font-weight:normal" fill="#111" text-anchor="middle" stroke="#111" stroke-width="0.45">1.7</text>
<line x1="369.8" y1="916.9" x2="369.8" y2="913.4" stroke="#111" stroke-width="1.2"/>
<text x="370.8" y="932.8" style="font-family:'Liberation Serif','Noto Serif CJK SC',serif;font-size:16px;font-weight:normal" fill="#111" text-anchor="middle" stroke="#111" stroke-width="0.45">1.8</text>
<line x1="407.4" y1="917.1" x2="407.4" y2="913.6" stroke="#111" stroke-width="1.2"/>
<text x="402.4" y="933.0" style="font-family:'Liberation Serif','Noto Serif CJK SC',serif;font-size:16px;font-weight:normal" fill="#111" text-anchor="middle" stroke="#111" stroke-width="0.45">1.9</text>
<path d="M114.8,793.8 L118.2,792.5 L121.6,791.3 L125.0,790.0 L128.4,788.7 L131.8,787.5 L135.2,786.2 L138.6,785.0 L142.0,783.7 L145.4,782.5 L148.8,781.2 L152.2,780.0 L155.6,778.7 L159.0,777.5 L162.4,776.2 L165.8,775.0 L169.2,773.8 L172.6,772.5 L175.9,771.3 L179.3,770.0 L182.7,768.8 L186.1,767.5 L189.5,766.2 L192.9,764.8 L196.3,763.5 L199.7,762.1 L203.1,760.8 L206.5,759.4 L209.9,758.1 L213.3,756.8 L216.7,755.5 L220.1,754.2 L223.5,753.0 L226.9,751.8 L230.3,750.7 L233.7,749.6 L237.0,748.6 L240.4,747.7 L243.8,746.8 L247.2,746.0 L250.6,745.3 L254.0,744.5 L257.4,743.9 L260.8,743.2 L264.2,742.6 L267.6,742.1 L270.9,741.6 L274.3,741.1 L277.7,740.6 L281.1,740.2 L284.5,739.7 L287.9,739.3 L291.3,738.9 L294.6,738.5 L298.0,738.1 L301.4,737.7 L304.8,737.4 L308.2,737.0 L311.6,736.7 L315.0,736.4 L318.3,736.1 L321.7,735.8 L325.1,735.5 L328.5,735.3 L331.9,735.0 L335.3,734.8 L338.7,734.6 L342.0,734.3 L345.4,734.1 L348.8,733.9 L352.2,733.7 L355.6,733.5 L359.0,733.4 L362.4,733.2 L365.7,733.0 L369.1,732.9 L372.5,732.7 L375.9,732.6 L379.3,732.5 L382.7,732.4" fill="none" stroke="#111" stroke-width="2" stroke-linejoin="round"/>
<path d="M114.7,810.5 L118.1,809.6 L121.5,808.7 L124.9,807.9 L128.3,807.0 L131.7,806.1 L135.0,805.3 L138.4,804.5 L141.8,803.6 L145.2,802.9 L148.6,802.1 L152.0,801.3 L155.4,800.6 L158.8,799.8 L162.2,799.1 L165.6,798.5 L168.9,797.8 L172.3,797.1 L175.7,796.5 L179.1,795.9 L182.5,795.3 L185.9,794.8 L189.3,794.2 L192.7,793.6 L196.1,793.1 L199.4,792.6 L202.8,792.0 L206.2,791.5 L209.6,791.0 L213.0,790.6 L216.4,790.1 L219.8,789.6 L223.2,789.2 L226.5,788.8 L229.9,788.3 L233.3,787.9 L236.7,787.6 L240.1,787.2 L243.5,786.8 L246.9,786.5 L250.2,786.1 L253.6,785.8 L257.0,785.5 L260.4,785.2 L263.8,784.9 L267.2,784.7 L270.6,784.5 L273.9,784.4 L277.3,784.2 L280.7,784.1 L284.1,783.9 L287.5,783.8 L290.9,783.7 L294.2,783.6 L297.6,783.5 L301.0,783.4 L304.4,783.3 L307.8,783.2 L311.2,783.1 L314.6,783.0 L317.9,782.9 L321.3,782.9 L324.7,782.8 L328.1,782.7 L331.5,782.7 L334.9,782.6 L338.2,782.6 L341.6,782.5 L345.0,782.5 L348.4,782.4 L351.8,782.4 L355.2,782.4 L358.5,782.3 L361.9,782.3 L365.3,782.3 L368.7,782.2 L372.1,782.2 L375.5,782.2 L378.8,782.2 L382.2,782.2" fill="none" stroke="#111" stroke-width="2" stroke-linejoin="round"/>
<path d="M113.8,904.1 L117.2,901.3 L120.7,898.4 L124.1,895.5 L127.5,892.6 L130.9,889.7 L134.3,886.7 L137.7,883.7 L141.1,880.7 L144.5,877.6 L147.9,874.5 L151.4,871.2 L154.8,867.9 L158.2,864.5 L161.6,861.1 L165.0,857.8 L168.4,854.5 L171.8,851.4 L175.3,848.4 L178.7,845.6 L182.1,842.9 L185.5,840.1 L188.9,837.3 L192.3,834.5 L195.7,831.7 L199.1,829.0 L202.5,826.3 L205.9,823.6 L209.3,821.1 L212.7,818.6 L216.1,816.2 L219.5,813.9 L222.9,811.7 L226.4,809.7 L229.8,807.9 L233.1,806.2 L236.5,804.7 L239.9,803.4 L243.3,802.4 L246.7,801.4 L250.1,800.6 L253.5,799.8 L256.9,799.1 L260.3,798.4 L263.7,797.9 L267.1,797.4 L270.4,797.0 L273.8,796.6 L277.2,796.2 L280.6,795.8 L284.0,795.5 L287.4,795.2 L290.8,794.9 L294.2,794.6 L297.5,794.3 L300.9,794.0 L304.3,793.8 L307.7,793.6 L311.1,793.3 L314.5,793.1 L317.8,793.0 L321.2,792.8 L324.6,792.6 L328.0,792.5 L331.4,792.3 L334.8,792.2 L338.2,792.1 L341.5,792.0 L344.9,791.9 L348.3,791.7 L351.7,791.6 L355.1,791.5 L358.5,791.5 L361.8,791.4 L365.2,791.3 L368.6,791.2 L372.0,791.2 L375.4,791.2 L378.8,791.1 L382.1,791.1" fill="none" stroke="#111" stroke-width="2" stroke-linejoin="round"/>
<rect x="111.2" y="790.2" width="7.2" height="7.2" fill="#111"/>
<rect x="175.5" y="766.5" width="7.2" height="7.2" fill="#111"/>
<rect x="239.7" y="742.1" width="7.2" height="7.2" fill="#111"/>
<rect x="266.1" y="735.8" width="7.2" height="7.2" fill="#111"/>
<rect x="379.1" y="727.1" width="7.2" height="7.2" fill="#111"/>
<circle cx="114.7" cy="810.5" r="3.6" fill="#111"/>
<circle cx="178.8" cy="795.6" r="3.6" fill="#111"/>
<circle cx="242.9" cy="786.5" r="3.6" fill="#111"/>
<circle cx="269.3" cy="782.1" r="3.6" fill="#111"/>
<circle cx="382.2" cy="780.7" r="3.6" fill="#111"/>
<polygon points="113.8,900.0 117.8,907.2 109.9,907.2" fill="#111"/>
<polygon points="178.4,841.7 182.3,848.9 174.4,848.9" fill="#111"/>
<polygon points="242.8,796.4 246.7,803.6 238.8,803.6" fill="#111"/>
<polygon points="269.2,792.3 273.1,799.5 265.2,799.5" fill="#111"/>
<polygon points="382.2,784.2 386.1,791.4 378.2,791.4" fill="#111"/>
<rect x="280.2" y="838.0" width="7.0" height="7.0" fill="#111"/>
<line x1="291" y1="841.5" x2="305.6" y2="841.5" stroke="#111" stroke-width="1.4"/>
<text x="311.4" y="847.1" style="font-family:'Liberation Serif','Noto Serif CJK SC',serif;font-size:16.5px;font-weight:normal" fill="#111" stroke="#111" stroke-width="0.45">70<tspan dx="4.5" style="font-size:14px">℃</tspan></text>
<circle cx="283.7" cy="858.5" r="3.5" fill="#111"/>
<line x1="291" y1="858.5" x2="305.6" y2="858.5" stroke="#111" stroke-width="1.4"/>
<text x="311.4" y="864.1" style="font-family:'Liberation Serif','Noto Serif CJK SC',serif;font-size:16.5px;font-weight:normal" fill="#111" stroke="#111" stroke-width="0.45">80<tspan dx="4.5" style="font-size:14px">℃</tspan></text>
<polygon points="283.7,869.0 287.6,876.0 279.8,876.0" fill="#111"/>
<line x1="291" y1="873.0" x2="305.6" y2="873.0" stroke="#111" stroke-width="1.4"/>
<text x="311.4" y="878.6" style="font-family:'Liberation Serif','Noto Serif CJK SC',serif;font-size:16.5px;font-weight:normal" fill="#111" stroke="#111" stroke-width="0.45">90<tspan dx="4.5" style="font-size:14px">℃</tspan></text>
<text x="244.0" y="953.5" style="font-family:'Liberation Serif','Noto Serif CJK SC',serif;font-size:15.5px;font-weight:bold" fill="#111" text-anchor="middle" textLength="77.0" lengthAdjust="spacing"><tspan style="font-style:italic">p</tspan>(H<tspan baseline-shift="-3" style="font-size:11px">2</tspan>O)/kPa</text>
<g transform="translate(55.6,817) rotate(-90)"><text x="0.0" y="0.0" style="font-family:'Liberation Serif','Noto Serif CJK SC',serif;font-size:15.5px;font-weight:bold" fill="#111" text-anchor="middle" textLength="86.0" lengthAdjust="spacing"><tspan style="font-style:italic">Γ</tspan>/(mol•kg<tspan baseline-shift="6" style="font-size:10px">−1</tspan>)</text></g>
<polygon points="540.5,1014.1 876.1,1016.5 872.2,1249.2 537.6,1245.8" fill="none" stroke="#111" stroke-width="1.1"/>
<line x1="540.5" y1="1014.1" x2="544.0" y2="1014.1" stroke="#111" stroke-width="1.2"/>
<text x="534.7" y="1020.4" style="font-family:'Liberation Serif','Noto Serif CJK SC',serif;font-size:16px;font-weight:normal" fill="#111" text-anchor="end" stroke="#111" stroke-width="0.45">−4.15</text>
<line x1="540.1" y1="1045.1" x2="543.6" y2="1045.1" stroke="#111" stroke-width="1.2"/>
<text x="534.3" y="1051.4" style="font-family:'Liberation Serif','Noto Serif CJK SC',serif;font-size:16px;font-weight:normal" fill="#111" text-anchor="end" stroke="#111" stroke-width="0.45">−4.20</text>
<line x1="539.7" y1="1076.1" x2="543.2" y2="1076.1" stroke="#111" stroke-width="1.2"/>
<text x="533.9" y="1082.4" style="font-family:'Liberation Serif','Noto Serif CJK SC',serif;font-size:16px;font-weight:normal" fill="#111" text-anchor="end" stroke="#111" stroke-width="0.45">−4.25</text>
<line x1="539.3" y1="1107.0" x2="542.8" y2="1107.0" stroke="#111" stroke-width="1.2"/>
<text x="533.5" y="1113.3" style="font-family:'Liberation Serif','Noto Serif CJK SC',serif;font-size:16px;font-weight:normal" fill="#111" text-anchor="end" stroke="#111" stroke-width="0.45">−4.30</text>
<line x1="538.9" y1="1138.0" x2="542.4" y2="1138.0" stroke="#111" stroke-width="1.2"/>
<text x="533.1" y="1144.3" style="font-family:'Liberation Serif','Noto Serif CJK SC',serif;font-size:16px;font-weight:normal" fill="#111" text-anchor="end" stroke="#111" stroke-width="0.45">−4.35</text>
<line x1="538.6" y1="1169.0" x2="542.1" y2="1169.0" stroke="#111" stroke-width="1.2"/>
<text x="532.8" y="1175.3" style="font-family:'Liberation Serif','Noto Serif CJK SC',serif;font-size:16px;font-weight:normal" fill="#111" text-anchor="end" stroke="#111" stroke-width="0.45">−4.40</text>
<line x1="538.2" y1="1200.0" x2="541.7" y2="1200.0" stroke="#111" stroke-width="1.2"/>
<text x="532.4" y="1206.3" style="font-family:'Liberation Serif','Noto Serif CJK SC',serif;font-size:16px;font-weight:normal" fill="#111" text-anchor="end" stroke="#111" stroke-width="0.45">−4.45</text>
<line x1="537.8" y1="1230.9" x2="541.3" y2="1230.9" stroke="#111" stroke-width="1.2"/>
<text x="532.0" y="1237.2" style="font-family:'Liberation Serif','Noto Serif CJK SC',serif;font-size:16px;font-weight:normal" fill="#111" text-anchor="end" stroke="#111" stroke-width="0.45">−4.50</text>
<line x1="555.8" y1="1246.0" x2="555.8" y2="1242.5" stroke="#111" stroke-width="1.2"/>
<text x="554.8" y="1263.0" style="font-family:'Liberation Serif','Noto Serif CJK SC',serif;font-size:16px;font-weight:normal" fill="#111" text-anchor="middle" stroke="#111" stroke-width="0.45">3.04</text>
<line x1="630.3" y1="1246.7" x2="630.3" y2="1243.2" stroke="#111" stroke-width="1.2"/>
<text x="629.3" y="1263.7" style="font-family:'Liberation Serif','Noto Serif CJK SC',serif;font-size:16px;font-weight:normal" fill="#111" text-anchor="middle" stroke="#111" stroke-width="0.45">3.08</text>
<line x1="704.8" y1="1247.5" x2="704.8" y2="1244.0" stroke="#111" stroke-width="1.2"/>
<text x="703.8" y="1264.5" style="font-family:'Liberation Serif','Noto Serif CJK SC',serif;font-size:16px;font-weight:normal" fill="#111" text-anchor="middle" stroke="#111" stroke-width="0.45">3.12</text>
<line x1="779.3" y1="1248.3" x2="779.3" y2="1244.8" stroke="#111" stroke-width="1.2"/>
<text x="778.3" y="1265.3" style="font-family:'Liberation Serif','Noto Serif CJK SC',serif;font-size:16px;font-weight:normal" fill="#111" text-anchor="middle" stroke="#111" stroke-width="0.45">3.16</text>
<line x1="853.8" y1="1249.0" x2="853.8" y2="1245.5" stroke="#111" stroke-width="1.2"/>
<text x="852.8" y="1266.0" style="font-family:'Liberation Serif','Noto Serif CJK SC',serif;font-size:16px;font-weight:normal" fill="#111" text-anchor="middle" stroke="#111" stroke-width="0.45">3.20</text>
<line x1="544.1" y1="1038.2" x2="869.3" y2="1213.7" stroke="#111" stroke-width="2"/>
<line x1="542.9" y1="1094.8" x2="862.0" y2="1248.4" stroke="#111" stroke-width="2"/>
<circle cx="572.1" cy="1040.1" r="3.6" fill="#111"/>
<circle cx="658.4" cy="1111.3" r="3.6" fill="#111"/>
<circle cx="749.0" cy="1159.7" r="3.6" fill="#111"/>
<circle cx="843.0" cy="1187.2" r="3.6" fill="#111"/>
<rect x="568.0" y="1101.4" width="7.2" height="7.2" fill="#111"/>
<rect x="654.1" y="1147.1" width="7.2" height="7.2" fill="#111"/>
<rect x="744.7" y="1191.9" width="7.2" height="7.2" fill="#111"/>
<rect x="837.8" y="1232.0" width="7.2" height="7.2" fill="#111"/>
<circle cx="642.0" cy="1038.2" r="3.2" fill="#111"/>
<line x1="648.7" y1="1038.2" x2="664.5" y2="1038.2" stroke="#111" stroke-width="1.4"/>
<text x="673.6" y="1045.7" style="font-family:'Liberation Serif','Noto Serif CJK SC',serif;font-size:16px;font-weight:normal" fill="#111" textLength="179.2" lengthAdjust="spacing" stroke="#111" stroke-width="0.35">B: Adsortance=4.47 mol/kg</text>
<rect x="639.0" y="1053.4" width="6.0" height="6.0" fill="#111"/>
<line x1="648.7" y1="1056.4" x2="664.5" y2="1056.4" stroke="#111" stroke-width="1.4"/>
<text x="673.6" y="1063.7" style="font-family:'Liberation Serif','Noto Serif CJK SC',serif;font-size:16px;font-weight:normal" fill="#111" textLength="179.2" lengthAdjust="spacing" stroke="#111" stroke-width="0.35">C: Adsortance=3.63 mol/kg</text>
<text x="678.5" y="1287.3" style="font-family:'Liberation Serif','Noto Serif CJK SC',serif;font-size:16px;font-weight:normal" fill="#111" textLength="81.5" lengthAdjust="spacing" stroke="#111" stroke-width="0.45"><tspan style="font-style:italic">T</tspan><tspan baseline-shift="6" style="font-size:11px">−1</tspan>/10<tspan baseline-shift="6" style="font-size:11px">−3</tspan>K<tspan baseline-shift="6" style="font-size:11px">−1</tspan></text>
<g transform="translate(482.6,1122) rotate(-90)"><text x="0.0" y="0.0" style="font-family:'Liberation Serif','Noto Serif CJK SC',serif;font-size:15.5px;font-weight:bold" fill="#111" text-anchor="middle" textLength="50.0" lengthAdjust="spacing">ln(<tspan style="font-style:italic">p</tspan>/<tspan style="font-style:italic">p</tspan><tspan baseline-shift="-3" style="font-size:11px">0</tspan>)</text></g>
<text x="28.4" y="674.0" style="font-size:18px;font-weight:bold" textLength="44.4" lengthAdjust="spacing">Fig. 5</text>
<text x="90.5" y="674.0" style="font-size:18px;letter-spacing:0.5px;word-spacing:3.16px" textLength="333.7" lengthAdjust="spacing">Adsorption isotherm of MgCl<tspan baseline-shift="-3" style="font-size:9px">2</tspan>. 3. 98H<tspan baseline-shift="-3" style="font-size:9px">2</tspan>O</text>
<text x="157.4" y="697.8" style="font-size:18px" textLength="137.8" lengthAdjust="spacing">to aqueous vapor</text>
<text x="28.3" y="995.6" style="font-size:18px;font-weight:bold" textLength="44.4" lengthAdjust="spacing">Fig. 6</text>
<text x="90.5" y="995.6" style="font-size:18px;letter-spacing:0.5px;word-spacing:3.13px" textLength="333.5" lengthAdjust="spacing">Adsorption isotherm of MgCl<tspan baseline-shift="-3" style="font-size:9px">2</tspan>. 1. 95H<tspan baseline-shift="-3" style="font-size:9px">2</tspan>O</text>
<text x="156.6" y="1017.0" style="font-size:18px" textLength="138.2" lengthAdjust="spacing">to aqueous vapor</text>
<text x="36.4" y="1065.5" style="font-size:18px;font-weight:bold" textLength="58.4" lengthAdjust="spacing">Table 3</text>
<text x="112.0" y="1065.5" style="font-size:18px;letter-spacing:0.5px;word-spacing:3.07px" textLength="304.4" lengthAdjust="spacing">Parameter of hydration isotherms for</text>
<text x="152.8" y="1088.3" style="font-size:18px" textLength="147.6" lengthAdjust="spacing">MgCl<tspan baseline-shift="-3" style="font-size:9px">2</tspan> • 3. 98H<tspan baseline-shift="-3" style="font-size:9px">2</tspan>O</text>
<rect x="22.0" y="1093.4" width="406.3" height="2.0" fill="#161616"/>
<text x="29.1" y="1132.0" style="font-size:15.5px" textLength="69.5" lengthAdjust="spacing">Parameter</text>
<text x="236.5" y="1115.5" style="font-size:15.5px" textLength="60.7" lengthAdjust="spacing">Isotherm</text>
<line x1="103.0" y1="1127.2" x2="428.3" y2="1127.2" stroke="#444" stroke-width="1.2"/>
<text x="136.5" y="1147.9" style="font-size:15.5px" text-anchor="middle">B</text>
<text x="201.0" y="1147.9" style="font-size:15.5px" text-anchor="middle">C</text>
<text x="266.2" y="1147.9" style="font-size:15.5px" text-anchor="middle">D</text>
<text x="331.3" y="1147.9" style="font-size:15.5px" text-anchor="middle">E</text>
<text x="396.2" y="1147.9" style="font-size:15.5px" text-anchor="middle">F</text>
<line x1="22.0" y1="1159.8" x2="428.3" y2="1159.8" stroke="#161616" stroke-width="1.3"/>
<text x="62.4" y="1181.0" style="font-size:15.5px" text-anchor="middle"><tspan style="font-style:italic">α</tspan></text>
<text x="103.40 119.60 127.60 135.60 143.60 151.60" y="1181.0" style="font-size:16px" fill="#3c3c3c">－27.29</text>
<text x="168.30 184.50 192.50 200.50 208.50 216.50" y="1181.0" style="font-size:16px" fill="#3c3c3c">－5.679</text>
<text x="233.00 249.20 257.20 265.20 273.20 281.20" y="1181.0" style="font-size:16px" fill="#3c3c3c">－5.799</text>
<text x="298.20 314.40 322.40 330.40 338.40 346.40" y="1181.0" style="font-size:16px" fill="#3c3c3c">－6.628</text>
<text x="359.10 375.30 383.30 391.30 399.30 411.30" y="1181.0" style="font-size:16px" fill="#3c3c3c">－70456</text>
<text x="62.4" y="1212.7" style="font-size:15.5px" text-anchor="middle"><tspan style="font-style:italic">β</tspan></text>
<text x="119.60 127.60 135.60 143.60 151.60" y="1212.7" style="font-size:16px" fill="#3c3c3c">1.260</text>
<text x="184.50 192.50 200.50 208.50 216.50" y="1212.7" style="font-size:16px" fill="#3c3c3c">1.143</text>
<text x="249.20 257.20 265.20 273.20 281.20" y="1212.7" style="font-size:16px" fill="#3c3c3c">1.256</text>
<text x="314.40 322.40 330.40 338.40 346.40" y="1212.7" style="font-size:16px" fill="#3c3c3c">1.235</text>
<text x="367.30 375.30 383.30 391.30 399.30 411.30" y="1212.7" style="font-size:16px" fill="#3c3c3c">0.8288</text>
<text x="62.4" y="1245.0" style="font-size:15.5px" text-anchor="middle"><tspan style="font-style:italic">γ</tspan></text>
<text x="107.60 115.60 123.60 131.60 139.60 151.60" y="1245.0" style="font-size:16px" fill="#3c3c3c">0.1889</text>
<text x="172.50 180.50 188.50 196.50 204.50 216.50" y="1245.0" style="font-size:16px" fill="#3c3c3c">0.1296</text>
<text x="237.20 245.20 253.20 261.20 269.20 281.20" y="1245.0" style="font-size:16px" fill="#3c3c3c">0.1328</text>
<text x="302.40 310.40 318.40 326.40 334.40 346.40" y="1245.0" style="font-size:16px" fill="#3c3c3c">0.1241</text>
<text x="367.30 375.30 383.30 391.30 399.30 411.30" y="1245.0" style="font-size:16px" fill="#3c3c3c">0.1315</text>
<text x="62.4" y="1277.2" style="font-size:15.5px" text-anchor="middle"><tspan style="font-style:italic">θ</tspan></text>
<text x="119.60 127.60 135.60 143.60 151.60" y="1277.2" style="font-size:16px" fill="#3c3c3c">8.667</text>
<text x="184.50 192.50 200.50 208.50 216.50" y="1277.2" style="font-size:16px" fill="#3c3c3c">6.344</text>
<text x="249.20 257.20 265.20 273.20 281.20" y="1277.2" style="font-size:16px" fill="#3c3c3c">6.210</text>
<text x="314.40 322.40 330.40 338.40 346.40" y="1277.2" style="font-size:16px" fill="#3c3c3c">4.960</text>
<text x="379.30 387.30 395.30 403.30 411.30" y="1277.2" style="font-size:16px" fill="#3c3c3c">2.727</text>
<rect x="22.0" y="1289.0" width="406.3" height="2.0" fill="#161616"/>
<text x="90.9" y="1339.0" style="font-size:17.5px" fill="#333" class="cj">万方数据</text>
<text x="489.4" y="399.3" style="font-size:18px;font-weight:bold" textLength="58.4" lengthAdjust="spacing">Table 4</text>
<text x="566.0" y="399.3" style="font-size:18px;letter-spacing:0.5px;word-spacing:2.83px" textLength="302.8" lengthAdjust="spacing">Parameter of hydration isotherms for</text>
<text x="605.6" y="422.4" style="font-size:18px" textLength="147.2" lengthAdjust="spacing">MgCl<tspan baseline-shift="-3" style="font-size:9px">2</tspan> • 1. 95H<tspan baseline-shift="-3" style="font-size:9px">2</tspan>O</text>
<rect x="474.9" y="429.2" width="405.4" height="2.0" fill="#161616"/>
<text x="498.2" y="467.4" style="font-size:15.5px" textLength="69.2" lengthAdjust="spacing">Parameter</text>
<text x="706.0" y="450.8" style="font-size:15.5px" textLength="60.2" lengthAdjust="spacing">Isotherm</text>
<line x1="588.4" y1="462.0" x2="880.3" y2="462.0" stroke="#444" stroke-width="1.2"/>
<text x="637.7" y="483.2" style="font-size:15.5px" text-anchor="middle">B</text>
<text x="735.1" y="483.2" style="font-size:15.5px" text-anchor="middle">C</text>
<text x="832.4" y="483.2" style="font-size:15.5px" text-anchor="middle">E</text>
<line x1="474.9" y1="494.8" x2="880.3" y2="494.8" stroke="#161616" stroke-width="1.3"/>
<text x="530.8" y="513.0" style="font-size:15.5px" text-anchor="middle"><tspan style="font-style:italic">α</tspan></text>
<text x="621.10 637.30 645.30 653.30 661.30 669.30" y="513.0" style="font-size:16px" fill="#3c3c3c">－7.258</text>
<text x="718.30 734.50 742.50 750.50 758.50 766.50" y="513.0" style="font-size:16px" fill="#3c3c3c">－4.347</text>
<text x="816.30 832.50 840.50 848.50 856.50 864.50" y="513.0" style="font-size:16px" fill="#3c3c3c">－12.95</text>
<text x="530.8" y="537.9" style="font-size:15.5px" text-anchor="middle"><tspan style="font-style:italic">β</tspan></text>
<text x="637.30 645.30 653.30 661.30 669.30" y="537.9" style="font-size:16px" fill="#3c3c3c">1.297</text>
<text x="734.50 742.50 750.50 758.50 766.50" y="537.9" style="font-size:16px" fill="#3c3c3c">1.209</text>
<text x="832.50 840.50 848.50 856.50 864.50" y="537.9" style="font-size:16px" fill="#3c3c3c">1.254</text>
<text x="530.8" y="564.1" style="font-size:15.5px" text-anchor="middle"><tspan style="font-style:italic">γ</tspan></text>
<text x="625.30 633.30 641.30 649.30 657.30 669.30" y="564.1" style="font-size:16px" fill="#3c3c3c">0.1219</text>
<text x="722.50 730.50 738.50 746.50 754.50 766.50" y="564.1" style="font-size:16px" fill="#3c3c3c">0.1323</text>
<text x="812.50 820.50 828.50 836.50 844.50 856.50 864.50" y="564.1" style="font-size:16px" fill="#3c3c3c">0.09234</text>
<text x="530.8" y="590.1" style="font-size:15.5px" text-anchor="middle"><tspan style="font-style:italic">θ</tspan></text>
<text x="637.30 645.30 653.30 661.30 669.30" y="590.1" style="font-size:16px" fill="#3c3c3c">19.24</text>
<text x="734.50 742.50 750.50 758.50 766.50" y="590.1" style="font-size:16px" fill="#3c3c3c">14.74</text>
<text x="832.50 840.50 848.50 856.50 864.50" y="590.1" style="font-size:16px" fill="#3c3c3c">13.98</text>
<rect x="474.9" y="597.6" width="405.4" height="2.0" fill="#161616"/>
<text x="471.1" y="656.4" style="font-size:18px;font-weight:bold" textLength="23.0" lengthAdjust="spacing">3.4</text>
<text x="519.0" y="656.4" style="font-size:18px;font-weight:bold" textLength="132.6" lengthAdjust="spacing">Adsorption heats</text>
<text x="511.2" y="678.8" style="font-size:18px;letter-spacing:0.5px;word-spacing:2.43px" textLength="375.2" lengthAdjust="spacing">The adsorption heat may be defined by Calu-</text>
<text x="471.1" y="701.1" style="font-size:18px" textLength="218.4" lengthAdjust="spacing">sis—Clapeyron Equation：</text>
<text x="508.8" y="735.2" style="font-size:18px"><tspan style="font-style:italic">Q</tspan></text>
<text x="522.0" y="735.2" style="font-size:18px">＝</text>
<text x="540.4" y="735.2" style="font-size:18px"><tspan style="font-style:italic">R</tspan></text>
<text x="554.2" y="735.2" style="font-size:18px"><tspan style="font-style:italic">T</tspan></text>
<text x="568.5" y="727.5" style="font-size:9px">2</text>
<line x1="578.8" y1="720.0" x2="578.8" y2="751.5" stroke="#161616" stroke-width="1.2"/>
<line x1="578.8" y1="720.5" x2="583.3" y2="720.5" stroke="#161616" stroke-width="1.2"/>
<line x1="578.8" y1="751.0" x2="583.3" y2="751.0" stroke="#161616" stroke-width="1.2"/>
<text x="628.7" y="723.3" style="font-size:18px" text-anchor="middle" textLength="80.0" lengthAdjust="spacing">∂ln(<tspan style="font-style:italic">p</tspan>/<tspan style="font-style:italic">p</tspan><tspan baseline-shift="-2.5" style="font-size:8px">0</tspan>)</text>
<line x1="587.3" y1="729.6" x2="670.2" y2="729.6" stroke="#555" stroke-width="1.1"/>
<text x="629.2" y="745.4" style="font-size:18px" text-anchor="middle" textLength="24.4" lengthAdjust="spacing">∂<tspan style="font-style:italic">T</tspan></text>
<line x1="678.3" y1="720.0" x2="678.3" y2="751.5" stroke="#161616" stroke-width="1.2"/>
<line x1="678.3" y1="720.5" x2="673.8" y2="720.5" stroke="#161616" stroke-width="1.2"/>
<line x1="678.3" y1="751.0" x2="673.8" y2="751.0" stroke="#161616" stroke-width="1.2"/>
<text x="682.3" y="750.0" style="font-size:9.5px"><tspan style="font-style:italic">q</tspan></text>
<text x="689.5" y="735.2" style="font-size:18px">＝</text>
<text x="709.5" y="735.2" style="font-size:18px">－</text>
<text x="727.5" y="735.2" style="font-size:18px"><tspan style="font-style:italic">R</tspan></text>
<line x1="743.8" y1="720.0" x2="743.8" y2="751.5" stroke="#161616" stroke-width="1.2"/>
<line x1="743.8" y1="720.5" x2="748.3" y2="720.5" stroke="#161616" stroke-width="1.2"/>
<line x1="743.8" y1="751.0" x2="748.3" y2="751.0" stroke="#161616" stroke-width="1.2"/>
<text x="793.0" y="726.0" style="font-size:18px" text-anchor="middle" textLength="82.0" lengthAdjust="spacing">∂ln(<tspan style="font-style:italic">p</tspan>/<tspan style="font-style:italic">p</tspan><tspan baseline-shift="-2.5" style="font-size:8px">0</tspan>)</text>
<line x1="750.8" y1="729.8" x2="835.3" y2="729.8" stroke="#555" stroke-width="1.1"/>
<text x="793.0" y="746.5" style="font-size:18px" text-anchor="middle" textLength="55.0" lengthAdjust="spacing">∂(1/<tspan style="font-style:italic">T</tspan>)</text>
<line x1="843.5" y1="720.0" x2="843.5" y2="751.5" stroke="#161616" stroke-width="1.2"/>
<line x1="843.5" y1="720.5" x2="839.0" y2="720.5" stroke="#161616" stroke-width="1.2"/>
<line x1="843.5" y1="751.0" x2="839.0" y2="751.0" stroke="#161616" stroke-width="1.2"/>
<text x="848.3" y="750.5" style="font-size:9.5px"><tspan style="font-style:italic">q</tspan></text>
<text x="859.0" y="768.4" style="font-size:18px" textLength="24.3" lengthAdjust="spacing">(6)</text>
<text x="509.3" y="791.9" style="font-size:18px;letter-spacing:0.5px;word-spacing:2.30px" textLength="377.5" lengthAdjust="spacing">Select <tspan style="font-style:italic">Γ</tspan> as 3. 63, 4. 47 and 13. 50,13. 31 mol/</text>
<text x="471.8" y="814.8" style="font-size:18px;letter-spacing:0.5px;word-spacing:2.65px" textLength="415.0" lengthAdjust="spacing">kg from Fig. 5 and Fig. 6 respectively, we obtain</text>
<text x="471.8" y="837.1" style="font-size:18px;letter-spacing:0.5px;word-spacing:1.81px" textLength="415.0" lengthAdjust="spacing">the corresponding equilibrium partial pressure of a-</text>
<text x="471.8" y="859.5" style="font-size:18px;letter-spacing:0.5px;word-spacing:2.52px" textLength="415.0" lengthAdjust="spacing">queous vapor, <tspan style="font-style:italic">p</tspan>. There is a linear relationship be-</text>
<text x="471.8" y="882.4" style="font-size:18px;letter-spacing:0.5px;word-spacing:4.30px" textLength="415.0" lengthAdjust="spacing">tween ln(<tspan style="font-style:italic">p</tspan>/<tspan style="font-style:italic">p</tspan><tspan baseline-shift="-2.5" style="font-size:8px">0</tspan>) and 1/<tspan style="font-style:italic">T</tspan> (see Fig. 7 and Fig. 8).</text>
<text x="471.8" y="905.0" style="font-size:18px;letter-spacing:0.5px;word-spacing:1.50px" textLength="415.0" lengthAdjust="spacing">The adsorption heat equals minus <tspan style="font-style:italic">R</tspan> times the slope</text>
<text x="471.8" y="927.4" style="font-size:18px" textLength="87.1" lengthAdjust="spacing">of the line.</text>
<text x="509.3" y="949.8" style="font-size:18px;letter-spacing:0.5px;word-spacing:1.27px" textLength="377.5" lengthAdjust="spacing">From Fig. 7 and Fig. 8, the adsorption heats of</text>
<text x="471.8" y="972.6" style="font-size:18px;letter-spacing:0.5px;word-spacing:5.29px" textLength="415.0" lengthAdjust="spacing">magnesium chloride hydrates were obtained and</text>
<text x="471.8" y="995.0" style="font-size:18px" textLength="137.6" lengthAdjust="spacing">listed in Table 5.</text>
<text x="516.7" y="1326.0" style="font-size:18px;font-weight:bold" textLength="44.4" lengthAdjust="spacing">Fig. 7</text>
<text x="579.0" y="1326.0" style="font-size:18px" textLength="262.4" lengthAdjust="spacing">Diagram of ln(<tspan style="font-style:italic">p</tspan>/<tspan style="font-style:italic">p</tspan><tspan baseline-shift="-2.5" style="font-size:8px">0</tspan>) to 1/<tspan style="font-style:italic">T</tspan> for</text>
<text x="551.7" y="1349.5" style="font-size:18px" textLength="254.0" lengthAdjust="spacing">isotherms of MgCl<tspan baseline-shift="-3" style="font-size:9px">2</tspan> • 3. 98H<tspan baseline-shift="-3" style="font-size:9px">2</tspan>O</text>
<rect x="504.7" y="1176.0" width="88.0" height="59.4" fill="#fff"/>
<polygon points="505.0,1176.1 529.6,1176.1 535.1,1193.5 541.8,1176.1 565.7,1176.1 565.7,1197.6 583.4,1197.6 583.4,1176.1 590.1,1176.1 590.1,1234.6 583.4,1234.6 583.4,1213.1 565.7,1213.1 565.7,1234.6 559.1,1234.6 559.1,1182.8 546.2,1182.8 538.7,1204.3 538.7,1234.6 532.1,1234.6 532.1,1204.3 524.9,1182.8 512.2,1182.8 512.2,1234.6 505.0,1234.6" fill="#d9261c"/>
<rect x="503.0" y="1204.3" width="90.0" height="2.2" fill="#fff"/>
<text x="601.3" y="1197.6" class="cj" style="font-size:20px;font-weight:400;letter-spacing:0.65px" fill="#1a1a1a">中国煤化工</text>
<rect x="601.2" y="1204.2" width="103.0" height="1.6" fill="#d9261c"/>
<text x="600.8" y="1228.2" class="cj" style="font-size:21.5px;font-weight:300" fill="#616161" textLength="105.5" lengthAdjust="spacing">CNMHG</text>
</svg>
</body></html>
